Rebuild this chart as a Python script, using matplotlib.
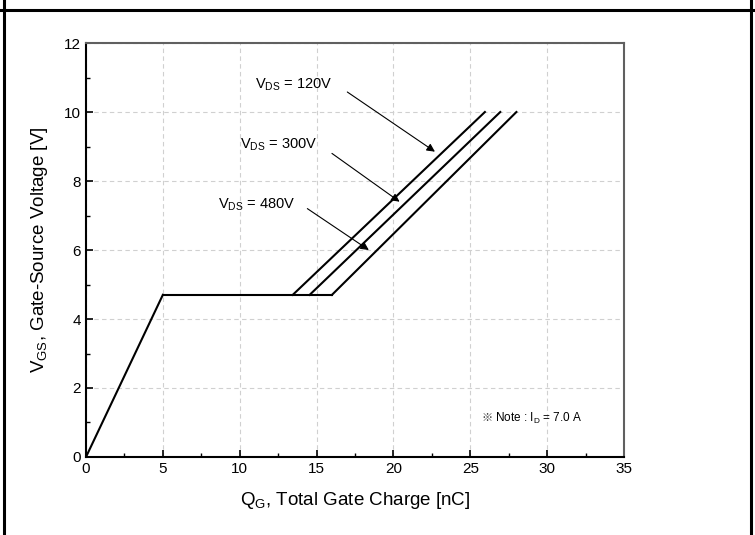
import matplotlib
matplotlib.use("Agg")
import matplotlib.pyplot as plt
from matplotlib.lines import Line2D
from matplotlib.ticker import MultipleLocator

plt.rcParams['font.family'] = ['Liberation Sans', 'DejaVu Sans']
plt.rcParams['mathtext.fontset'] = 'custom'
plt.rcParams['mathtext.rm'] = 'Liberation Sans'

# gate charge curves: (Qg, Vgs) corner points
qg_ramp = [0, 5]
vgs_ramp = [0, 4.7]
plateau_v = 4.7
plateau_end = {'120V': 13.45, '300V': 14.55, '480V': 16.0}
top_q = {'120V': 25.95, '300V': 26.95, '480V': 28.0}
top_v = 10.0

labels = ['120V', '300V', '480V']
label_xy = [(11.0, 10.78), (10.0, 9.05), (8.6, 7.3)]
arrow_from = [(17.0, 10.58), (16.0, 8.8), (14.4, 7.2)]
arrow_to = [(22.7, 8.85), (20.4, 7.4), (18.4, 6.0)]

fig = plt.figure(figsize=(7.55, 5.35), dpi=100)
ax = fig.add_axes([0.1139, 0.1458, 0.7126, 0.7738])

lw = 1.5
ax.plot(qg_ramp, vgs_ramp, color='black', lw=lw)
ax.plot([qg_ramp[-1], plateau_end['480V']], [plateau_v, plateau_v], color='black', lw=lw)
for k in labels:
    ax.plot([plateau_end[k], top_q[k]], [plateau_v, top_v], color='black', lw=lw)

for k, (tx, ty), (fx, fy), (ex, ey) in zip(labels, label_xy, arrow_from, arrow_to):
    ax.text(tx, ty, r'V$\mathregular{_{DS}}$ = ' + k, fontsize=10.5, va='center', ha='left')
    ax.annotate('', xy=(ex, ey), xytext=(fx, fy),
                arrowprops=dict(arrowstyle='-|>', color='black', lw=0.8,
                                mutation_scale=12, shrinkA=0, shrinkB=0))

# note: the reference mark needs a CJK font, the rest stays Liberation
ax.text(25.75, 1.13, '※', fontsize=8, va='center', ha='left',
        family=['Noto Sans CJK SC', 'DejaVu Sans'], color='#333333')
ax.text(26.6, 1.13, r'Note : I$\mathregular{_{D}}$ = 7.0 A', fontsize=8.5,
        va='center', ha='left')

ax.set_xlim(0, 35)
ax.set_ylim(0, 12)
ax.xaxis.set_major_locator(MultipleLocator(5))
ax.xaxis.set_minor_locator(MultipleLocator(2.5))
ax.yaxis.set_major_locator(MultipleLocator(2))
ax.yaxis.set_minor_locator(MultipleLocator(1))
ax.tick_params(which='both', direction='in', top=False, right=False, labelsize=11)
ax.tick_params(which='major', length=5, width=1.2)
ax.tick_params(which='minor', length=3, width=1)
ax.grid(True, which='major', ls=(0, (4, 3)), color='#d0d0d0', lw=0.8)

for s in ['left', 'bottom']:
    ax.spines[s].set_linewidth(1.5)
    ax.spines[s].set_color('black')
for s in ['top', 'right']:
    ax.spines[s].set_linewidth(1.5)
    ax.spines[s].set_color('#606060')

ax.set_xlabel(r'Q$\mathregular{_{G}}$, Total Gate Charge [nC]', fontsize=13.5, labelpad=10)
ax.set_ylabel(r'V$\mathregular{_{GS}}$, Gate-Source Voltage [V]', fontsize=13.5, labelpad=10)

# outer table-cell border
fig.add_artist(Line2D([0, 1], [1 - 10 / 535] * 2, transform=fig.transFigure, color='black', lw=2.2))
fig.add_artist(Line2D([4 / 755] * 2, [0, 1], transform=fig.transFigure, color='black', lw=2.2))
fig.add_artist(Line2D([751 / 755] * 2, [0, 1], transform=fig.transFigure, color='black', lw=2.2))

fig.savefig('out.png', dpi=100)
